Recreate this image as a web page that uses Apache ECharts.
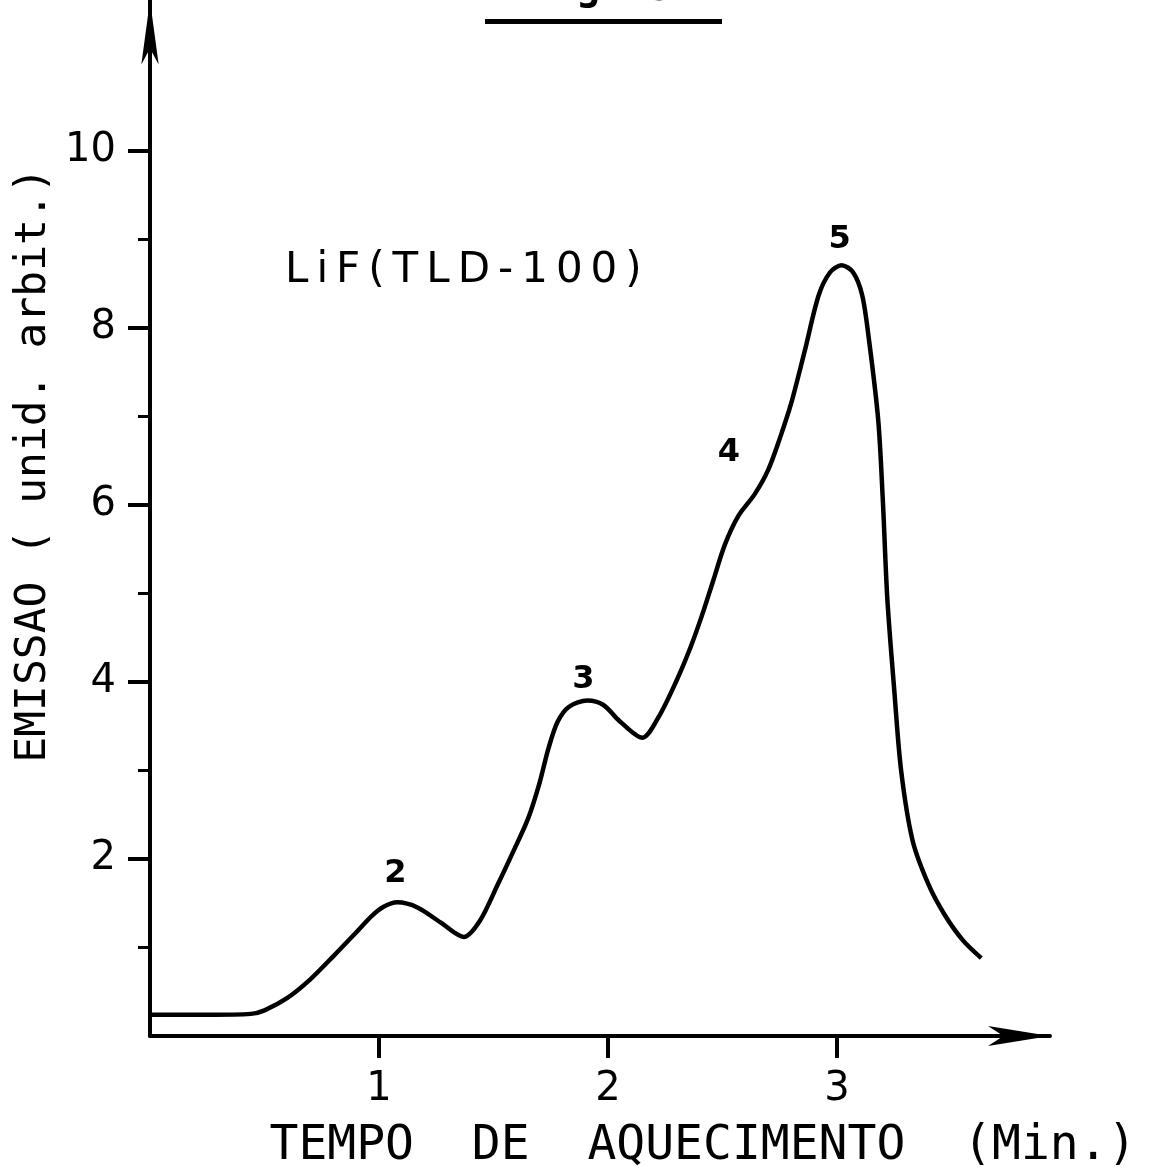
<!DOCTYPE html>
<html>
<head>
<meta charset="utf-8">
<script src="https://cdn.jsdelivr.net/npm/echarts@6/dist/echarts.min.js"></script>
<style>
  html, body { margin: 0; padding: 0; background: #fff; }
  #chart { width: 1153px; height: 1175px; }
</style>
</head>
<body>
<div id="chart"></div>
<script>
// Glow curve of LiF (TLD-100): emission vs. heating time
const heatingTime = [
  0.00, 0.25, 0.44, 0.50, 0.60, 0.70, 0.80, 0.90, 0.97, 1.02,
  1.08, 1.17, 1.27, 1.37, 1.44, 1.52, 1.58, 1.65, 1.70, 1.74,
  1.78, 1.83, 1.91, 1.98, 2.05, 2.15, 2.22, 2.30, 2.36, 2.41,
  2.46, 2.51, 2.57, 2.64, 2.70, 2.75, 2.80, 2.86, 2.92, 2.97,
  3.02, 3.07, 3.11, 3.14, 3.18, 3.20, 3.22, 3.25, 3.28, 3.33,
  3.40, 3.47, 3.55, 3.63
];
const emission = [
  0.24, 0.24, 0.25, 0.29, 0.43, 0.64, 0.90, 1.17, 1.36, 1.46,
  1.51, 1.45, 1.28, 1.12, 1.30, 1.72, 2.05, 2.45, 2.85, 3.25,
  3.55, 3.72, 3.79, 3.74, 3.56, 3.37, 3.60, 4.02, 4.39, 4.75,
  5.15, 5.55, 5.88, 6.12, 6.40, 6.75, 7.15, 7.75, 8.37, 8.63,
  8.71, 8.63, 8.37, 7.86, 6.96, 6.06, 4.93, 3.91, 3.00, 2.21,
  1.71, 1.37, 1.08, 0.88
];

// Numbered glow peaks and the time at which each is marked
const peakNames = ['2', '3', '4', '5'];
const peakTimes = [1.08, 1.91, 2.51, 3.02];

const xTickValues = [1, 2, 3];
const yTickValues = [2, 4, 6, 8, 10];
const yMinorTickValues = [1, 3, 5, 7, 9];

const xAxisTitle = 'TEMPO  DE  AQUECIMENTO  (Min.)';
const yAxisTitle = 'EMISSAO ( unid. arbit.)';
const sampleLabel = 'LiF(TLD-100)';
const figureTitle = 'Fig. 3';

const X_MAX = 3.93;
const Y_MAX = 11.7;

const INK = '#000';
const MONO = '"DejaVu Sans Mono", "Liberation Mono", monospace';
const SANS = '"DejaVu Sans", "Liberation Sans", sans-serif';

const curve = heatingTime.map((t, i) => [t, emission[i]]);

const labelOffsets = [[-2, -29], [-4, -21], [4, -92], [-2, -25]];
const peakMarks = peakNames.map((name, i) => {
  const idx = heatingTime.indexOf(peakTimes[i]);
  return {
    name: name,
    coord: [heatingTime[idx], emission[idx]],
    label: { offset: labelOffsets[i] }
  };
});

// Spaced-out lettering: one text element per character
function spacedText(str, x0, yMid, font, gap) {
  const ctx = document.createElement('canvas').getContext('2d');
  ctx.font = font;
  const els = [];
  let x = x0;
  for (const ch of str) {
    els.push({
      type: 'text',
      x: x,
      y: yMid,
      style: { text: ch, fill: INK, font: font, textVerticalAlign: 'middle' }
    });
    x += ctx.measureText(ch).width + gap;
  }
  return els;
}

const chart = echarts.init(document.getElementById('chart'), null, { renderer: 'canvas' });

const pxPerX = 229;
const pxPerY = 88.5;
const gridLeft = 150;
const gridBottomY = 1036;

chart.setOption({
  backgroundColor: '#fff',
  animation: false,
  grid: {
    left: gridLeft,
    top: gridBottomY - Y_MAX * pxPerY,
    width: X_MAX * pxPerX,
    height: Y_MAX * pxPerY
  },
  xAxis: {
    type: 'value',
    min: 0,
    max: X_MAX,
    splitLine: { show: false },
    axisLine: {
      show: true,
      onZero: false,
      symbol: ['none', 'arrow'],
      symbolSize: [15, 62],
      lineStyle: { color: INK, width: 4 }
    },
    axisTick: {
      show: true,
      inside: false,
      length: 22,
      customValues: xTickValues,
      lineStyle: { color: INK, width: 4 }
    },
    axisLabel: {
      show: true,
      customValues: xTickValues,
      margin: 34,
      color: INK,
      fontFamily: SANS,
      fontSize: 40
    }
  },
  yAxis: [
    {
      type: 'value',
      min: 0,
      max: Y_MAX,
      position: 'left',
      splitLine: { show: false },
      axisLine: {
        show: true,
        onZero: false,
        symbol: ['none', 'arrow'],
        symbolSize: [13, 64],
        lineStyle: { color: INK, width: 4 }
      },
      axisTick: {
        show: true,
        length: 22,
        customValues: yTickValues,
        lineStyle: { color: INK, width: 4 }
      },
      axisLabel: {
        show: true,
        customValues: yTickValues,
        margin: 34,
        color: INK,
        fontFamily: SANS,
        fontSize: 40
      }
    },
    {
      type: 'value',
      min: 0,
      max: Y_MAX,
      position: 'left',
      offset: 0,
      splitLine: { show: false },
      axisLine: { show: false },
      axisTick: {
        show: true,
        length: 12,
        customValues: yMinorTickValues,
        lineStyle: { color: INK, width: 3 }
      },
      axisLabel: { show: false }
    }
  ],
  series: [
    {
      type: 'line',
      data: curve,
      smooth: 0.3,
      symbol: 'none',
      lineStyle: { color: INK, width: 4.5 },
      markPoint: {
        symbol: 'circle',
        symbolSize: 1,
        itemStyle: { color: 'rgba(0,0,0,0)' },
        label: {
          show: true,
          position: 'inside',
          formatter: '{b}',
          color: INK,
          fontFamily: SANS,
          fontWeight: 'bold',
          fontSize: 32
        },
        data: peakMarks
      }
    }
  ],
  graphic: [
    ...spacedText(sampleLabel, 285, 271, '42px ' + SANS, 8),
    {
      type: 'text',
      x: 34,
      y: 465,
      rotation: Math.PI / 2,
      style: {
        text: yAxisTitle,
        fill: INK,
        font: '43px ' + MONO,
        textAlign: 'center',
        textVerticalAlign: 'middle'
      }
    },
    {
      type: 'text',
      x: 703,
      y: 1147,
      style: {
        text: xAxisTitle,
        fill: INK,
        font: '48px ' + MONO,
        textAlign: 'center',
        textVerticalAlign: 'middle'
      }
    },
    {
      type: 'text',
      x: 600,
      y: -10,
      style: {
        text: figureTitle,
        fill: INK,
        font: 'bold 40px ' + MONO,
        textAlign: 'center',
        textVerticalAlign: 'middle'
      }
    },
    {
      type: 'rect',
      shape: { x: 485, y: 19, width: 237, height: 5 },
      style: { fill: INK }
    }
  ]
});
</script>
</body>
</html>
